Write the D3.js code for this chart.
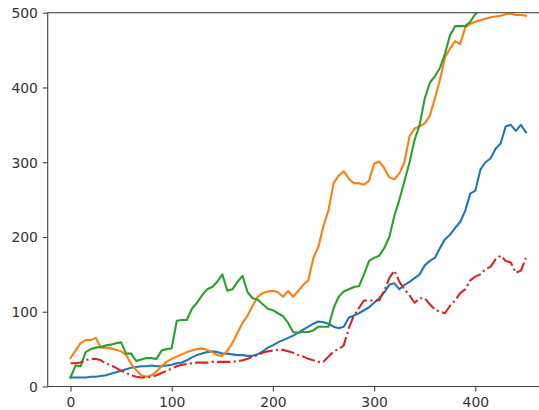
<!DOCTYPE html>
<html>
<head>
<meta charset="utf-8">
<script src="https://cdn.jsdelivr.net/npm/d3@7/dist/d3.min.js"></script>
<style>
  html, body { margin: 0; padding: 0; background: #fff; }
  svg { display: block; }
  text { font-family: "DejaVu Sans", sans-serif; font-size: 13.9px; fill: #333; }
</style>
</head>
<body>
<svg id="chart" width="539" height="410"></svg>
<script>
// Sample positions shared by all four series
const steps = d3.range(0, 455, 5);

const blueValues = [
  12, 12, 12, 12, 13, 13, 14, 15, 17, 19, 21, 23, 25, 26, 27, 27, 28, 27, 27, 28,
  29, 31, 32, 35, 39, 42, 44, 46, 47, 46, 44, 44, 43, 42, 42, 41, 41, 43, 47, 52,
  55, 59, 62, 65, 68, 72, 76, 80, 84, 87, 86, 84, 80, 78, 80, 92, 95, 98, 102, 106,
  112, 118, 126, 136, 138, 130, 136, 140, 145, 150, 162, 168, 172, 185, 197, 203, 212, 220, 235, 258,
  262, 290, 300, 305, 318, 325, 348, 350, 342, 350, 340
];

const orangeValues = [
  38, 48, 58, 62, 62, 65, 52, 52, 51, 49, 47, 42, 30, 22, 15, 13, 15, 20, 27, 33,
  37, 40, 43, 46, 48, 50, 51, 49, 46, 42, 41, 48, 58, 72, 85, 95, 108, 120, 125, 127,
  128, 126, 120, 128, 120, 128, 136, 142, 172, 187, 215, 236, 272, 282, 288, 278, 272, 272, 270, 275,
  298, 301, 292, 280, 277, 285, 300, 335, 345, 348, 352, 362, 385, 410, 440, 452, 462, 458, 480, 485,
  488, 490, 492, 494, 495, 496, 498, 499, 497, 497, 496
];

const greenValues = [
  12, 28, 27, 46, 50, 52, 53, 55, 56, 58, 59, 44, 44, 34, 36, 38, 38, 37, 48, 50,
  51, 88, 89, 89, 104, 112, 122, 130, 133, 140, 150, 128, 130, 140, 148, 126, 118, 116, 110, 104,
  102, 98, 94, 85, 73, 72, 73, 73, 75, 80, 80, 80, 105, 120, 127, 130, 133, 134, 150, 168,
  172, 175, 185, 200, 228, 250, 275, 300, 330, 350, 385, 406, 415, 426, 445, 470, 482, 482, 482, 488,
  498, 505, 512, 515, 518, 520, 522, 522, 524, 525, 525
];

const redValues = [
  31, 31, 32, 35, 37, 37, 35, 31, 28, 25, 21, 18, 15, 13, 12, 12, 13, 15, 18, 21,
  24, 27, 29, 30, 31, 32, 32, 32, 33, 33, 33, 33, 33, 34, 35, 37, 40, 42, 45, 47,
  48, 49, 49, 47, 45, 42, 40, 37, 35, 33, 33, 40, 47, 50, 55, 78, 95, 105, 115, 115,
  115, 115, 128, 145, 155, 140, 130, 122, 112, 118, 118, 110, 103, 100, 98, 108, 115, 125, 130, 142,
  147, 150, 157, 160, 170, 175, 168, 166, 152, 155, 172
];

const yTicks = [0, 100, 200, 300, 400, 500];
const xTicks = [0, 100, 200, 300, 400];

const series = [
  { values: blueValues,   color: "#1f77b4", dash: null },
  { values: orangeValues, color: "#ff7f0e", dash: null },
  { values: greenValues,  color: "#2ca02c", dash: null },
  { values: redValues,    color: "#d62728", dash: "13.3,3.3,2.1,3.3" }
];

const svg = d3.select("#chart");

// Axes box (right edge runs past the canvas)
const boxLeft = 47.7, boxRight = 548.7, boxTop = 12.7, boxBottom = 386.5;

const x = d3.scaleLinear().domain([-22.5, 472.5]).range([boxLeft, boxRight]);
const y = d3.scaleLinear().domain([0, 500]).range([boxBottom, boxTop]);

svg.append("defs").append("clipPath").attr("id", "plot-clip")
  .append("rect")
  .attr("x", boxLeft).attr("y", boxTop)
  .attr("width", boxRight - boxLeft).attr("height", boxBottom - boxTop);

const line = d3.line()
  .x((d, i) => x(steps[i]))
  .y(d => y(d));

const plot = svg.append("g").attr("clip-path", "url(#plot-clip)");

series.forEach(s => {
  plot.append("path")
    .datum(s.values)
    .attr("fill", "none")
    .attr("stroke", s.color)
    .attr("stroke-width", 2.1)
    .attr("stroke-linejoin", "round")
    .attr("stroke-linecap", s.dash ? "butt" : "square")
    .attr("stroke-dasharray", s.dash)
    .attr("d", line);
});

// Axes with ticks
const tickLen = 4.9, tickPad = 4.9;

const xAxis = d3.axisBottom(x).tickValues(xTicks).tickSize(tickLen).tickPadding(tickPad).tickFormat(d3.format("d"));
const yAxis = d3.axisLeft(y).tickValues(yTicks).tickSize(tickLen).tickPadding(tickPad).tickFormat(d3.format("d"));

const gx = svg.append("g").attr("transform", `translate(0,${boxBottom})`).call(xAxis);
const gy = svg.append("g").attr("transform", `translate(${boxLeft},0)`).call(yAxis);

[gx, gy].forEach(g => {
  g.select(".domain").remove();
  g.selectAll(".tick line").attr("stroke", "#444").attr("stroke-width", 1.1);
  g.selectAll(".tick text").attr("fill", "#333").style("font-size", "13.9px")
    .style("font-family", "'DejaVu Sans', sans-serif");
});
gx.selectAll(".tick text").attr("dy", null).attr("y", 20.5);
gy.selectAll(".tick text").attr("dy", null).attr("y", 5);

// Spines drawn as the full axes box
svg.append("rect")
  .attr("x", boxLeft).attr("y", boxTop)
  .attr("width", boxRight - boxLeft).attr("height", boxBottom - boxTop)
  .attr("fill", "none")
  .attr("stroke", "#444")
  .attr("stroke-width", 1.1);
</script>
</body>
</html>
